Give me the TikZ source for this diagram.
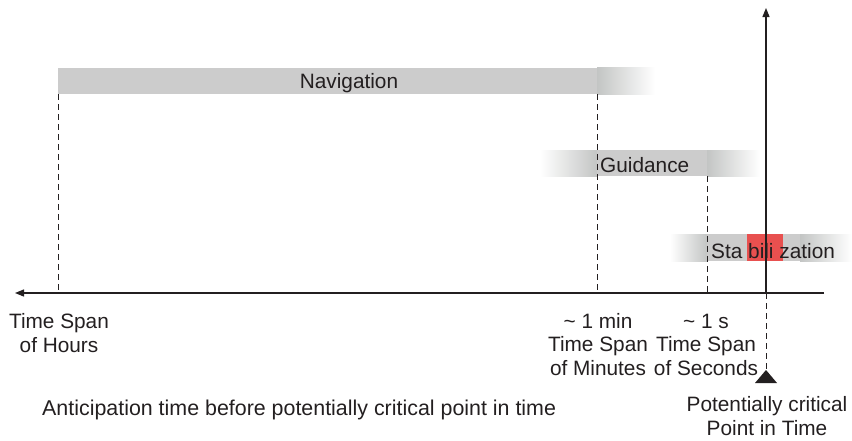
\documentclass[tikz,border=0pt]{standalone}
\usepackage{fontspec}
\setmainfont{Liberation Sans}
\usetikzlibrary{arrows.meta}

\definecolor{barfill}{HTML}{CCCCCC}
\definecolor{wingfill}{HTML}{C3C5C4}
\definecolor{critred}{HTML}{E8504F}
\definecolor{ink}{HTML}{231F20}

\tikzset{
  lbl/.style={inner sep=0pt, text=ink, font=\fontsize{20.8}{23.5}\selectfont},
  axisline/.style={draw=ink, line width=1.2pt, -{Triangle[length=9pt,width=7pt]}},
  guide/.style={draw=ink, line width=0.9pt, dash pattern=on 6pt off 4pt},
  wingright/.style={left color=wingfill, right color=white},
  wingleft/.style={left color=white, right color=wingfill},
}

\begin{document}
\begin{tikzpicture}[x=1pt, y=-1pt]
\useasboundingbox (0,0) rectangle (852,440);

% phase bars with soft (shaded) ends
\fill[barfill] (58,68) rectangle (597,94);
\shade[wingright] (597,67) rectangle (655,94);

\shade[wingleft] (540,150) rectangle (597,176);
\fill[barfill] (597,150) rectangle (707,176);
\shade[wingright] (707,150) rectangle (760,176);

\shade[wingleft] (670,234) rectangle (707,261);
\fill[barfill] (707,234) rectangle (800,261);
\fill[critred] (747,234) rectangle (783,261);
\shade[wingright] (800,234) rectangle (852,261);

% bar labels
\node[lbl, anchor=base] (nav) at (349,88.5) {Navigation};
\node[lbl, anchor=base west] (guid) at (600,172.5) {Guidance};
\node[lbl, anchor=base west] (stab) at (711,258) {Sta bili zation};

% time axis and critical point axis
\coordinate (axR) at (824,293);
\coordinate (axL) at (15,293);
\coordinate (crit) at (766,293);
\coordinate (top) at (766,8);
\coordinate (mark) at (766,370);

% guide lines from bar ends down to the axis
\coordinate (hoursTop) at (58,94);
\coordinate (hoursAx) at (58,293);
\coordinate (minTop) at (597,94);
\coordinate (minAx) at (597,293);
\coordinate (secTop) at (707,176);
\coordinate (secAx) at (707,293);
\draw[guide] (hoursTop) -- (hoursAx);
\draw[guide] (minTop) -- (minAx);
\draw[guide] (secTop) -- (secAx);
\draw[guide] (crit) -- (mark);

\draw[axisline] (axR) -- (axL);
\draw[axisline] (crit) -- (top);

% marker of the critical point
\fill[ink] (mark) -- ++(11,13) -- ++(-22,0) -- cycle;

% axis labels (anchor=base sits on the last line)
\node[lbl, anchor=base, align=center] (hours) at (59,352) {Time Span\\of Hours};
\node[lbl, anchor=base, align=center] (mins) at (598,375) {\char`\~\ 1 min\\Time Span\\of Minutes};
\node[lbl, anchor=base, align=center] (secs) at (706,375) {\char`\~\ 1 s\\Time Span\\of Seconds};
\node[lbl, anchor=base, align=center] (critlbl) at (767,435) {Potentially critical\\Point in Time};
\node[lbl, anchor=base west, font=\fontsize{21.4}{24}\selectfont] (antic) at (42,415) {Anticipation time before potentially critical point in time};
\end{tikzpicture}
\end{document}
